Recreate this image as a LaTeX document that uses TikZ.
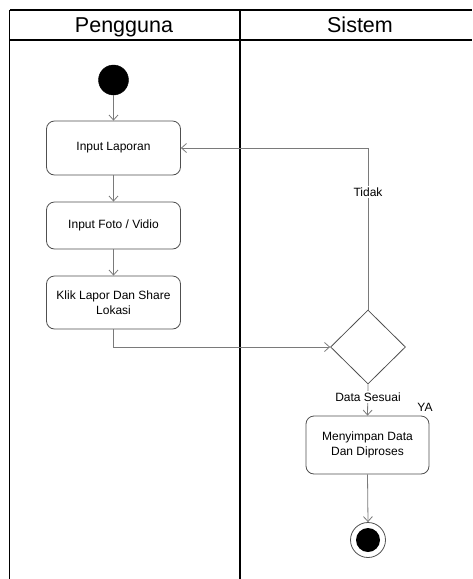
\documentclass[tikz,border=0pt]{standalone}
\usepackage{fontspec}
\setmainfont{Liberation Sans}
\usetikzlibrary{arrows.meta,shapes.geometric}
\definecolor{boxline}{HTML}{505050}
\definecolor{flowline}{HTML}{7A7A7A}
\begin{document}
\begin{tikzpicture}[x=1pt,y=-1pt,
  lane/.style={line width=1.8pt,black},
  lanehead/.style={font=\fontsize{21.5}{24}\selectfont,anchor=base},
  act/.style={draw=boxline,line width=0.8pt,rounded corners=8pt,align=center,
    font=\fontsize{12}{15.5}\selectfont,inner sep=2pt},
  decision/.style={draw=boxline,line width=0.8pt,diamond,minimum width=75pt,
    minimum height=74pt,inner sep=0pt},
  startdot/.style={circle,fill=black,draw=black,minimum size=30pt,inner sep=0pt},
  enddot/.style={circle,draw=boxline,line width=0.8pt,minimum size=35pt,inner sep=0pt},
  flow/.style={draw=flowline,line width=0.8pt,-{Straight Barb[length=5pt,width=9pt]}},
  guard/.style={fill=white,font=\fontsize{12}{14}\selectfont,inner sep=1.5pt}]
\useasboundingbox (0,0) rectangle (472,579);

% swimlane frame
\draw[lane] (9.5,10) -- (472,10);
\draw[lane] (9.5,40) -- (472,40);
\draw[lane] (9.5,10) -- (9.5,579);
\draw[lane] (240,10) -- (240,579);
\node[lanehead] (hpeng) at (124,32.3) {Pengguna};
\node[lanehead] (hsis) at (360,32.3) {Sistem};

% actions
\node[startdot] (start) at (113.5,80) {};
\node[act,minimum width=134pt,minimum height=54pt] (inlap) at (113.5,148) {Input Laporan};
\node[act,minimum width=134pt,minimum height=47pt] (infoto) at (113.5,225.5) {Input Foto / Vidio};
\node[act,minimum width=134pt,minimum height=53pt] (klik) at (113.5,302.5) {Klik Lapor Dan Share\\Lokasi};
\node[decision] (dec) at (368,347) {};
\node[act,minimum width=123pt,minimum height=58pt] (simpan) at (367.5,445) {Menyimpan Data\\Dan Diproses};
\node[enddot] (final) at (368,540) {};
\node[circle,fill=black,minimum size=24pt,inner sep=0pt] (finaldot) at (final) {};

% flows
\draw[flow] (start) -- (inlap);
\draw[flow] (inlap) -- (infoto);
\draw[flow] (infoto) -- (klik);
\draw[flow] (klik.south) |- (dec.west);
\draw[flow] (dec.north) -- (dec.north |- inlap.east) -- (inlap.east);
\node[guard] (tidak) at (368,192) {Tidak};
\draw[flow] (dec.south) -- (simpan.north);
\node[guard] (sesuai) at (368,397) {Data Sesuai};
\node[font=\fontsize{12}{14}\selectfont,inner sep=0pt] (ya) at (425,407) {YA};
\draw[flow] (simpan.south) -- (final.north);
\end{tikzpicture}
\end{document}
